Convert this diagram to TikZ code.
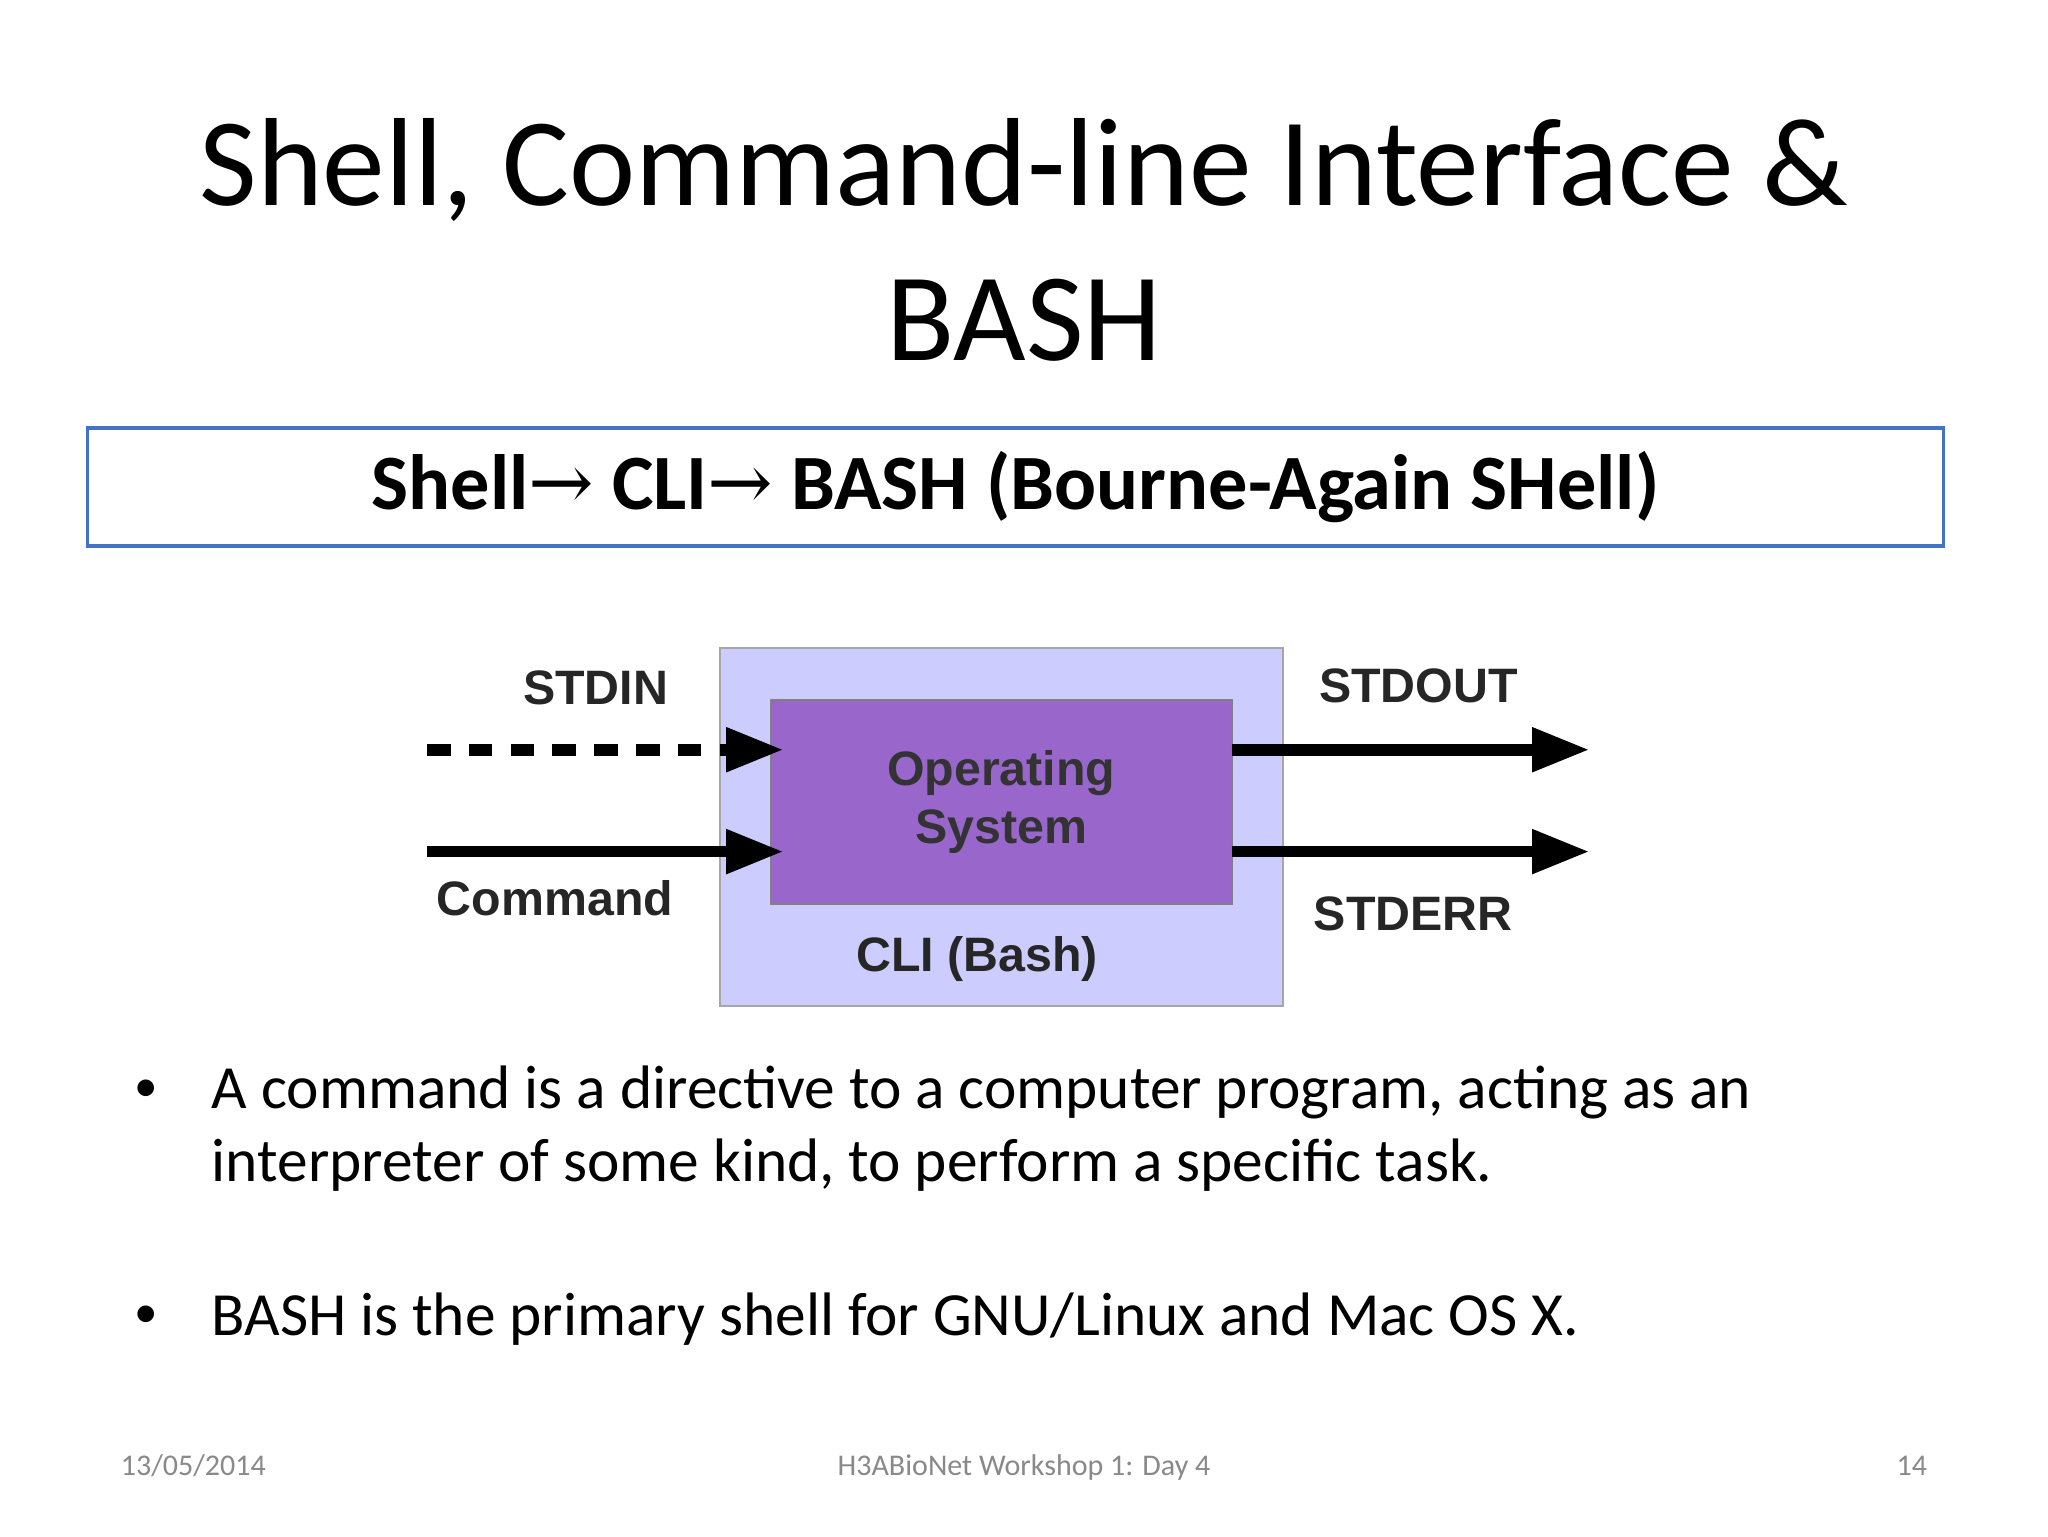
\documentclass[tikz,border=0pt]{standalone}
\usepackage{fontspec}
\setmainfont{Carlito}
\newfontfamily\diag{Liberation Sans}
\newfontfamily\arr{DejaVu Serif}
\usetikzlibrary{arrows.meta}
\definecolor{boxblue}{RGB}{68,114,196}
\definecolor{cliback}{RGB}{204,204,255}
\definecolor{osfill}{RGB}{153,102,204}
\definecolor{foot}{RGB}{137,137,137}
\begin{document}
\begin{tikzpicture}[x=1pt,y=-1pt,
  lbl/.style={font=\diag\fontsize{37}{45}\selectfont\bfseries, text=black!85},
  flow/.style={line width=9pt, -{Triangle[length=44pt,width=32pt]}},
  bul/.style={anchor=west, inner sep=0pt, font=\fontsize{47}{56}\selectfont, align=left}]
\useasboundingbox (0,0) rectangle (1568,1176);
\fill[white] (0,0) rectangle (1568,1176);
% title
\node (t1) at (784,130) {\fontsize{96}{115}\selectfont Shell, Command-line Interface \&};
\node (t2) at (784,245) {\fontsize{96}{115}\selectfont BASH};
\node (hdr) [draw=boxblue, line width=3pt, minimum width=1421pt, minimum height=90pt,
  font=\fontsize{60}{64}\selectfont\bfseries] at (777.5,373)
  {Shell{\arr\mdseries\fontsize{60}{64}\selectfont→} CLI{\arr\mdseries\fontsize{60}{64}\selectfont→} BASH (Bourne-Again SHell)};
% diagram
\node (cli) [draw=black!35, line width=1.5pt, fill=cliback, minimum width=431pt, minimum height=274pt] at (766.5,633) {};
\node (os) [draw=black!50, line width=1.5pt, fill=osfill, minimum width=353pt, minimum height=156pt,
  align=center, lbl, text=black!80] at (766.5,614) {Operating\\System};
\node (clil) [lbl] at (748,734) {CLI (Bash)};
\node (stdin) [lbl] at (456,527) {STDIN};
\node (cmd) [lbl] at (425,688) {Command};
\node (stdout) [lbl] at (1086,525) {STDOUT};
\node (stderr) [lbl] at (1082,700) {STDERR};
\coordinate (i1) at (327,574); \coordinate (i1e) at (600,574);
\coordinate (i2) at (327,652); \coordinate (i2e) at (600,652);
\coordinate (o1) at (943,574); \coordinate (o1e) at (1217,574);
\coordinate (o2) at (943,652); \coordinate (o2e) at (1217,652);
\draw[flow, dash pattern=on 18pt off 14pt] (i1) -- (i1e);
\draw[flow] (i2) -- (i2e);
\draw[flow] (o1) -- (o1e);
\draw[flow] (o2) -- (o2e);
% bullets
\node (b1) [bul, font=\fontsize{36}{40}\selectfont] at (103,835) {•};
\node (bt1) [bul] at (162,864) {A command is a directive to a computer program, acting as an\\interpreter of some kind, to perform a specific task.};
\node (b2) [bul, font=\fontsize{36}{40}\selectfont] at (103,1008) {•};
\node (bt2) [bul] at (162,1010) {BASH is the primary shell for GNU/Linux and Mac OS X.};
% footer
\node (f1) [anchor=base west, text=foot, font=\fontsize{23}{26}\selectfont] at (89,1130) {13/05/2014};
\node (f2) [anchor=base, text=foot, font=\fontsize{23}{26}\selectfont] at (784,1130) {H3ABioNet Workshop 1: Day 4};
\node (f3) [anchor=base east, text=foot, font=\fontsize{23}{26}\selectfont] at (1479,1130) {14};
\end{tikzpicture}
\end{document}
